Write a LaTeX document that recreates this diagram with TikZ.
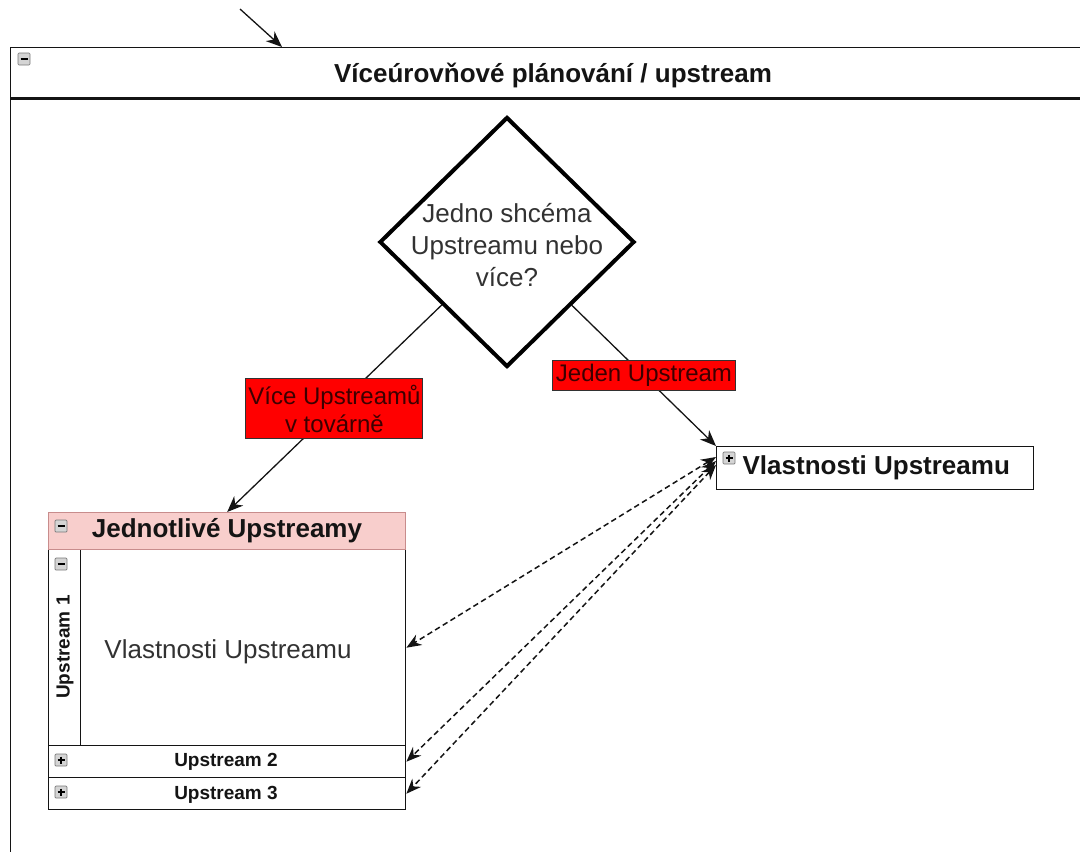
\documentclass[tikz,border=0pt]{standalone}
\usepackage{fontspec}
\setmainfont{Liberation Sans}
\usetikzlibrary{shapes.geometric,arrows.meta,calc}

\definecolor{inkdark}{RGB}{20,20,20}
\definecolor{inkgray}{RGB}{50,50,50}
\definecolor{labelred}{RGB}{255,0,0}
\definecolor{labelink}{RGB}{60,0,0}
\definecolor{poolpink}{RGB}{248,206,204}
\definecolor{poolpinkline}{RGB}{200,140,140}
\definecolor{iconline}{RGB}{120,120,120}
\definecolor{iconfill}{RGB}{212,212,212}

\begin{document}
\begin{tikzpicture}[x=1pt,y=-1pt,
  line width=1.3pt,
  box/.style={draw=inkdark, anchor=north west, inner sep=0pt, line width=1.4pt},
  titletext/.style={inner sep=0pt, text=inkdark, font=\bfseries\fontsize{26}{32}\selectfont},
  lanetext/.style={inner sep=0pt, text=inkdark, font=\bfseries\fontsize{19}{23}\selectfont},
  plaintext/.style={inner sep=0pt, text=inkgray, align=center, font=\fontsize{26}{32}\selectfont},
  redlabel/.style={draw=inkgray, fill=labelred, line width=1pt, inner sep=0pt,
    text=labelink, align=center, font=\fontsize{24}{28}\selectfont},
  icon/.style={draw=iconline, fill=iconfill, minimum size=12pt, inner sep=0pt,
    line width=0.7pt, rounded corners=1pt},
  minusicon/.style={icon, path picture={
    \draw[line width=1.6pt, black] ([xshift=2.5pt]path picture bounding box.west) --
      ([xshift=-2.5pt]path picture bounding box.east);}},
  plusicon/.style={icon, path picture={
    \draw[line width=1.6pt, black] ([xshift=2.5pt]path picture bounding box.west) --
      ([xshift=-2.5pt]path picture bounding box.east);
    \draw[line width=1.6pt, black] ([yshift=-2.5pt]path picture bounding box.north) --
      ([yshift=2.5pt]path picture bounding box.south);}},
  flow/.style={draw=inkdark, line width=1.3pt, -{Stealth[length=16pt, width=13pt, inset=5pt]}},
  link/.style={draw=inkdark, line width=1.5pt, dash pattern=on 5.5pt off 3.5pt,
    {Stealth[length=15pt, width=12pt, inset=5pt]}-{Stealth[length=15pt, width=12pt, inset=5pt]}}
]
\path[use as bounding box] (0,0) rectangle (1080,852);
\clip (0,0) rectangle (1080,852);

% main pool: header band and body running off the page
\node[box, minimum width=1100pt, minimum height=50pt] (pool) at (10,47) {};
\node[box, minimum width=1100pt, minimum height=820pt] (poolbody) at (pool.south west) {};
\node[minusicon] (poolicon) at (24,59) {};
\node[titletext] (pooltitle) at (553,75) {Víceúrovňové plánování / upstream};

% incoming flow from above
\coordinate (entry) at (240,9);
\coordinate (entryend) at (282,47);
\draw[flow] (entry) -- (entryend);

% decision
\node[diamond, draw=black, line width=4pt, minimum width=255pt, minimum height=250pt,
  inner sep=0pt] (dia) at (507,242) {};
\node[plaintext] (diatext) at (507,245) {Jedno shcéma\\Upstreamu nebo\\více?};

% single upstream properties
\node[box, minimum width=317pt, minimum height=43pt] (vl) at (716,446) {};
\node[plusicon] (vlicon) at (729,458) {};
\node[titletext, anchor=west] (vltext) at (742,468) {Vlastnosti Upstreamu};

% pool of individual upstreams
\node[box, minimum width=357pt, minimum height=196pt] (lane1) at (48,549) {};
\node[box, minimum width=32pt, minimum height=196pt] (strip1) at (48,549) {};
\node[box, minimum width=357pt, minimum height=32pt] (lane2) at (48,745) {};
\node[box, minimum width=357pt, minimum height=32pt] (lane3) at (48,777) {};
\node[box, draw=poolpinkline, fill=poolpink, minimum width=357pt, minimum height=37pt] (jedhead) at (48,512) {};
\node[minusicon] (jedicon) at (61,526) {};
\node[titletext] (jedtitle) at (227,531) {Jednotlivé Upstreamy};
\node[minusicon] (lane1icon) at (61,564) {};
\node[lanetext, rotate=90] (lane1title) at (65,647) {Upstream 1};
\node[plaintext] (lane1text) at (228,652) {Vlastnosti Upstreamu};
\node[plusicon] (lane2icon) at (61,760) {};
\node[lanetext] (lane2title) at (226,762) {Upstream 2};
\node[plusicon] (lane3icon) at (61,792) {};
\node[lanetext] (lane3title) at (226,795) {Upstream 3};

% decision branches
\draw[flow] (dia) -- node[redlabel, minimum width=177pt, minimum height=60pt, pos=0.5] (lblmulti)
  {Více Upstreamů\\v továrně} (jedhead.north);
\draw[flow] (dia) -- node[redlabel, minimum width=183pt, minimum height=30pt, pos=0.5] (lblsingle)
  {Jeden Upstream} (vl.north west);

% property links
\draw[link] ([yshift=-11pt]vl.north west) -- (lane1.east);
\draw[link] ([yshift=-15pt]vl.north west) -- (lane2.east);
\draw[link] ([yshift=-19pt]vl.north west) -- (lane3.east);
\end{tikzpicture}
\end{document}
